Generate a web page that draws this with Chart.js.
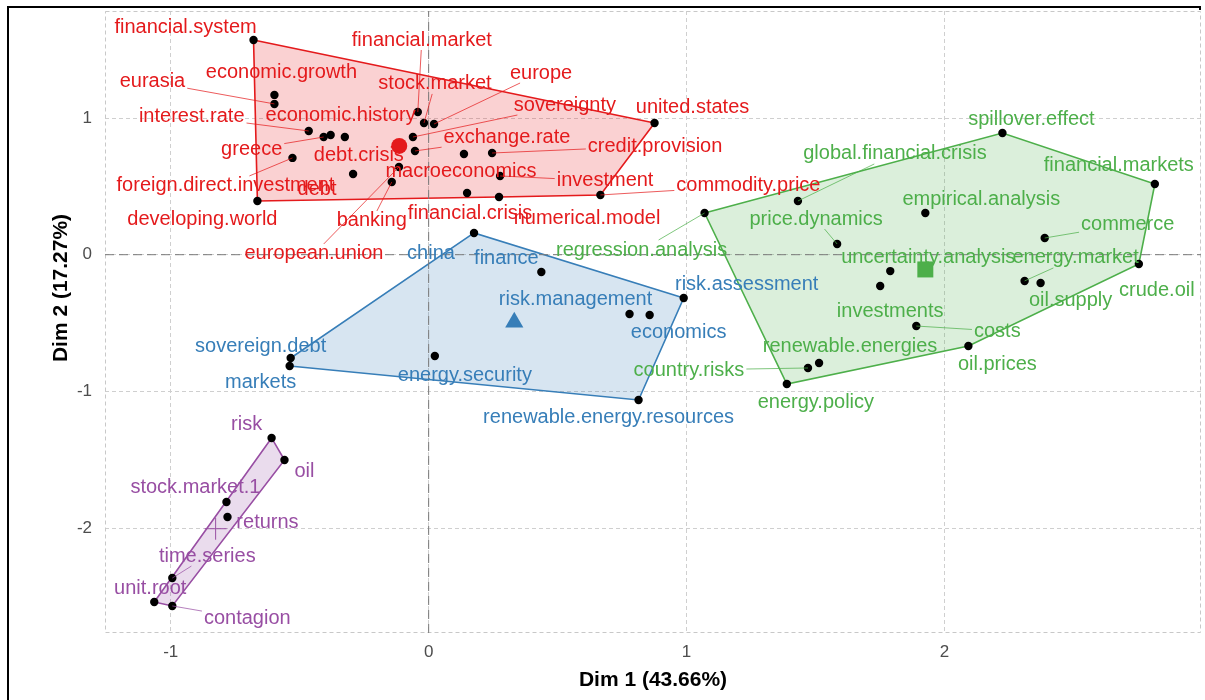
<!DOCTYPE html>
<html>
<head>
<meta charset="utf-8">
<script src="https://cdn.jsdelivr.net/npm/chart.js@4.4.1/dist/chart.umd.min.js"></script>
<style>
html,body{margin:0;padding:0;background:#fff;}
#wrap{position:relative;width:1205px;height:700px;}
</style>
</head>
<body>
<div id="wrap"><canvas id="c" width="1205" height="700"></canvas></div>
<script>
// ---------------- DATA ----------------
const xTitle = 'Dim 1 (43.66%)';
const yTitle = 'Dim 2 (17.27%)';
const xTicks = [-1, 0, 1, 2];
const yTicks = [-2, -1, 0, 1];

const redNames = ['financial.system','economic.growth','eurasia','interest.rate','greece','economic.history','debt.crisis','foreign.direct.investment','debt','developing.world','european.union','banking','exchange.rate','sovereignty','europe','stock.market','financial.market','credit.provision','investment','macroeconomics','commodity.price','united.states','financial.crisis','numerical.model'];
const redX = [-0.679,-0.598,-0.598,-0.465,-0.407,-0.380,-0.325,-0.528,-0.293,-0.664,-0.115,-0.143,-0.053,-0.061,0.021,-0.018,-0.042,0.246,0.277,0.137,0.666,0.876,0.149,0.273];
const redY = [1.571,1.169,1.103,0.905,0.861,0.876,0.861,0.708,0.590,0.393,0.642,0.532,0.759,0.861,0.956,0.964,1.044,0.744,0.576,0.737,0.437,0.964,0.451,0.422];

const blueNames = ['china','finance','risk.management','risk.assessment','economics','sovereign.debt','markets','energy.security','renewable.energy.resources'];
const blueX = [0.176,0.437,0.779,0.989,0.857,-0.535,-0.539,0.024,0.814];
const blueY = [0.159,-0.127,-0.434,-0.317,-0.441,-0.756,-0.814,-0.741,-1.063];

const greenNames = ['regression.analysis','global.financial.crisis','price.dynamics','uncertainty.analysis','investments','country.risks','renewable.energies','energy.policy','spillover.effect','financial.markets','empirical.analysis','commerce','crude.oil','energy.market','oil.supply','costs','oil.prices'];
const greenX = [1.070,1.432,1.584,1.790,1.751,1.471,1.514,1.389,2.225,2.816,1.926,2.389,2.754,2.311,2.373,1.891,2.093];
const greenY = [0.305,0.393,0.078,-0.120,-0.229,-0.829,-0.792,-0.946,0.890,0.517,0.305,0.122,-0.068,-0.192,-0.207,-0.522,-0.668];

const purpleNames = ['risk','oil','stock.market.1','returns','time.series','unit.root','contagion'];
const purpleX = [-0.609,-0.559,-0.784,-0.780,-0.994,-1.064,-0.994];
const purpleY = [-1.341,-1.502,-1.809,-1.919,-2.366,-2.541,-2.570];

const centroidX = [-0.114, 0.332, 1.926, -0.826];
const centroidY = [0.796, -0.495, -0.108, -2.005];

// ---------------- LAYOUT / STYLE ----------------
const X_MIN = -1.255, X_MAX = 2.995, Y_MIN = -2.768, Y_MAX = 1.783;
const FONT = '"Liberation Sans", Arial, Helvetica, sans-serif';
const LABEL_SIZE = 20;

const clusterStyles = [
  {color:'#E41A1C', fill:'rgba(228,26,28,0.2)', shape:'circle', r:8},
  {color:'#377EB8', fill:'rgba(55,126,184,0.2)', shape:'triangle', r:10.5},
  {color:'#4DAF4A', fill:'rgba(77,175,74,0.2)', shape:'rect', r:11.3},
  {color:'#984EA3', fill:'rgba(152,78,163,0.2)', shape:'cross', r:11}
];

// label centre offsets in pixels from each point
const labelOffsets = {
  'financial.system':[-68,-12],'economic.growth':[7,-22],'eurasia':[-122,-22],'interest.rate':[-117,-15],
  'economic.history':[10,-19],'greece':[-72,12],'debt.crisis':[14,18],'foreign.direct.investment':[-67,28],
  'debt':[-36,15],'developing.world':[-55,19],'european.union':[-85,87],'banking':[-20,39],
  'exchange.rate':[92,-13],'sovereignty':[152,-32],'europe':[107,-51],'stock.market':[11,-39],
  'financial.market':[4,-72],'credit.provision':[163,-7],'investment':[105,5],'macroeconomics':[-3,18],
  'commodity.price':[148,-9],'united.states':[38,-15],'financial.crisis':[3,20],'numerical.model':[88,21],
  'china':[-43,21],'finance':[-35,-14],'risk.management':[-54,-15],'risk.assessment':[63,-14],
  'economics':[29,18],'sovereign.debt':[-30,-12],'markets':[-29,17],'energy.security':[30,20],
  'renewable.energy.resources':[-30,18],
  'regression.analysis':[-63,37],'global.financial.crisis':[97,-47],'price.dynamics':[-21,-25],
  'uncertainty.analysis':[38,-14],'investments':[10,25],'country.risks':[-119,2],'renewable.energies':[31,-16],
  'energy.policy':[29,19],'spillover.effect':[29,-14],'financial.markets':[-36,-19],'empirical.analysis':[56,-14],
  'commerce':[83,-14],'crude.oil':[18,27],'energy.market':[51,-23],'oil.supply':[30,18],'costs':[81,5],
  'oil.prices':[29,18],
  'risk':[-25,-13],'oil':[20,12],'stock.market.1':[-31,-14],'returns':[40,6],'time.series':[35,-22],
  'unit.root':[-4,-13],'contagion':[75,13]
};
const segmentNames = new Set(['eurasia','interest.rate','greece','foreign.direct.investment','european.union','banking',
  'exchange.rate','sovereignty','europe','stock.market','financial.market','credit.provision','investment',
  'commodity.price','regression.analysis','global.financial.crisis','price.dynamics','country.risks','commerce',
  'energy.market','costs','contagion','time.series']);

const clusters = [
  {names:redNames, xs:redX, ys:redY},
  {names:blueNames, xs:blueX, ys:blueY},
  {names:greenNames, xs:greenX, ys:greenY},
  {names:purpleNames, xs:purpleX, ys:purpleY}
];

function hull(xs, ys){
  const pts = xs.map((x,i)=>({x:x, y:ys[i]})).sort((a,b)=>a.x-b.x||a.y-b.y);
  const cross=(o,a,b)=>(a.x-o.x)*(b.y-o.y)-(a.y-o.y)*(b.x-o.x);
  const lower=[];
  for(const p of pts){while(lower.length>=2&&cross(lower[lower.length-2],lower[lower.length-1],p)<=0)lower.pop();lower.push(p);}
  const upper=[];
  for(let i=pts.length-1;i>=0;i--){const p=pts[i];while(upper.length>=2&&cross(upper[upper.length-2],upper[upper.length-1],p)<=0)upper.pop();upper.push(p);}
  upper.pop(); lower.pop();
  const h=lower.concat(upper); h.push({x:h[0].x,y:h[0].y});
  return h;
}

const datasets = [];
clusters.forEach((c,i)=>{
  const s = clusterStyles[i];
  datasets.push({type:'line', data:hull(c.xs,c.ys), borderColor:s.color, backgroundColor:s.fill,
    borderWidth:1.6, fill:'shape', pointRadius:0, tension:0, order:10});
});
datasets.push({type:'line', data:[{x:X_MIN,y:0},{x:X_MAX,y:0}], borderColor:'#7a7a7a', borderDash:[9,5],
  borderWidth:1, pointRadius:0, fill:false, order:8});
datasets.push({type:'line', data:[{x:0,y:Y_MIN},{x:0,y:Y_MAX}], borderColor:'#7a7a7a', borderDash:[9,5],
  borderWidth:1, pointRadius:0, fill:false, order:8});
clusters.forEach((c,i)=>{
  datasets.push({type:'scatter', data:c.xs.map((x,j)=>({x:x, y:c.ys[j]})), backgroundColor:'#000',
    borderColor:'#000', pointRadius:4.2, borderWidth:0, order:5, clusterIndex:i});
});
clusters.forEach((c,i)=>{
  const s = clusterStyles[i];
  datasets.push({type:'scatter', data:[{x:centroidX[i], y:centroidY[i]}], pointStyle:s.shape, pointRadius:s.r,
    backgroundColor:s.color, borderColor:s.color, borderWidth:s.shape==='cross'?1:0, order:4});
});

const decorPlugin = {
  id:'decor',
  beforeDatasetsDraw(chart){
    const {ctx, chartArea:a} = chart;
    ctx.save();
    ctx.strokeStyle='#c8c8c8'; ctx.lineWidth=1; ctx.setLineDash([4,3]);
    ctx.strokeRect(a.left+0.5, a.top+0.5, a.right-a.left-1, a.bottom-a.top-1);
    ctx.restore();
  },
  afterDatasetsDraw(chart){
    const {ctx} = chart;
    const xs = chart.scales.x, ys = chart.scales.y;
    ctx.save();
    ctx.font = LABEL_SIZE + 'px ' + FONT;
    ctx.textAlign='center'; ctx.textBaseline='middle';
    const items=[];
    clusters.forEach((c,i)=>{
      c.names.forEach((n,j)=>{
        const px = xs.getPixelForValue(c.xs[j]), py = ys.getPixelForValue(c.ys[j]);
        const off = labelOffsets[n] || [0,-16];
        const cx = px+off[0], cy = py+off[1];
        const w = ctx.measureText(n).width;
        items.push({n, px, py, cx, cy, w, color:clusterStyles[i].color});
      });
    });
    // segments
    items.forEach(it=>{
      if(!segmentNames.has(it.n)) return;
      const hw = it.w/2+2, hh = LABEL_SIZE/2;
      const vx = it.px-it.cx, vy = it.py-it.cy;
      const s = Math.min(vx? hw/Math.abs(vx):Infinity, vy? hh/Math.abs(vy):Infinity);
      if (s>=1) return;
      const ex = it.cx + s*vx, ey = it.cy + s*vy;
      ctx.strokeStyle = it.color; ctx.lineWidth=0.8; ctx.globalAlpha=0.9;
      ctx.beginPath(); ctx.moveTo(it.px,it.py); ctx.lineTo(ex,ey); ctx.stroke();
    });
    ctx.globalAlpha=1;
    items.forEach(it=>{ ctx.fillStyle=it.color; ctx.fillText(it.n, it.cx, it.cy); });
    // y axis title
    ctx.translate(61, 288); ctx.rotate(-Math.PI/2);
    ctx.font = 'bold 21px ' + FONT; ctx.fillStyle='#000';
    ctx.fillText(yTitle, 0, 0);
    ctx.restore();
  },
  afterDraw(chart){
    const {ctx} = chart;
    ctx.save();
    ctx.strokeStyle='#000'; ctx.lineWidth=2;
    ctx.beginPath(); ctx.moveTo(8,700); ctx.lineTo(8,7); ctx.lineTo(1200,7); ctx.lineTo(1200,10); ctx.stroke();
    ctx.restore();
  }
};

new Chart(document.getElementById('c'), {
  type:'scatter',
  data:{datasets},
  plugins:[decorPlugin],
  options:{
    responsive:false, animation:false, events:[],
    layout:{autoPadding:false, padding:{top:11, right:4, left:0, bottom:0}},
    plugins:{legend:{display:false}, tooltip:{enabled:false}},
    scales:{
      x:{type:'linear', min:X_MIN, max:X_MAX,
        afterBuildTicks:(s)=>{s.ticks = xTicks.map(v=>({value:v}));},
        afterFit:(s)=>{s.height=67; s.paddingLeft=0; s.paddingRight=0;},
        ticks:{color:'#4d4d4d', font:{family:FONT, size:17}, padding:9, includeBounds:false},
        grid:{color:'#cfcfcf', lineWidth:1, drawTicks:false},
        border:{display:false, dash:[4,3]},
        title:{display:true, text:xTitle, color:'#000', font:{family:FONT, size:21, weight:'bold'}, padding:{top:0,bottom:7}}
      },
      y:{type:'linear', min:Y_MIN, max:Y_MAX,
        afterBuildTicks:(s)=>{s.ticks = yTicks.map(v=>({value:v}));},
        afterFit:(s)=>{s.width=105; s.paddingTop=0; s.paddingBottom=0;},
        ticks:{color:'#4d4d4d', font:{family:FONT, size:17}, padding:13, includeBounds:false},
        grid:{color:'#cfcfcf', lineWidth:1, drawTicks:false},
        border:{display:false, dash:[4,3]},
        title:{display:false}
      }
    }
  }
});
</script>
</body>
</html>
